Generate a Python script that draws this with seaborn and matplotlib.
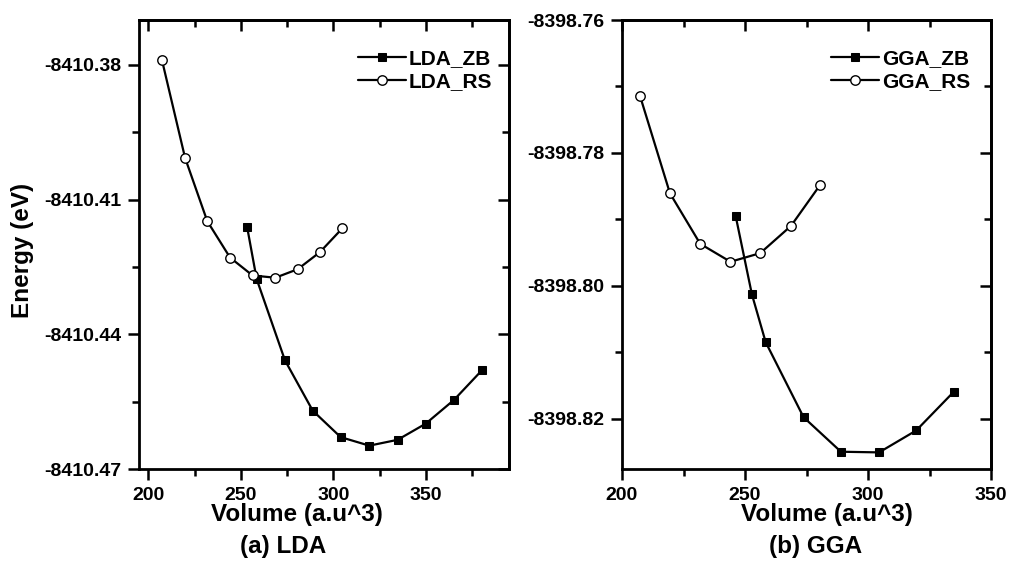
import numpy as np
import pandas as pd
import matplotlib
matplotlib.use("Agg")
import matplotlib.pyplot as plt
import seaborn as sns
from matplotlib.ticker import FixedLocator, FormatStrFormatter

# ---- data ----
lda_zb_v = [253.4, 258.6, 273.9, 288.9, 304.0, 319.5, 334.8, 350.0, 365.3, 380.4]
lda_zb_e = [-8410.4160, -8410.4277, -8410.4458, -8410.4570, -8410.4629,
            -8410.4648, -8410.4635, -8410.4599, -8410.4546, -8410.4480]
lda_rs_v = [207.4, 219.9, 231.9, 244.2, 256.4, 268.7, 280.8, 292.8, 304.9]
lda_rs_e = [-8410.3789, -8410.4007, -8410.4148, -8410.4229, -8410.4269,
            -8410.4274, -8410.4255, -8410.4217, -8410.4164]

gga_zb_v = [246.2, 252.8, 258.4, 273.8, 289.0, 304.5, 319.6, 334.8]
gga_zb_e = [-8398.7895, -8398.8013, -8398.8085, -8398.8198, -8398.8250,
            -8398.8251, -8398.8218, -8398.8160]
gga_rs_v = [207.3, 219.5, 231.8, 244.1, 256.2, 268.7, 280.6]
gga_rs_e = [-8398.7714, -8398.7861, -8398.7937, -8398.7964, -8398.7951,
            -8398.7910, -8398.7848]

lda_yticks = [-8410.47, -8410.44, -8410.41, -8410.38]
gga_yticks = [-8398.82, -8398.80, -8398.78, -8398.76]
lda_xticks = [200, 250, 300, 350]
gga_xticks = [200, 250, 300, 350]

sns.set_style("ticks")
plt.rcParams['font.family'] = ['Liberation Sans', 'DejaVu Sans']
plt.rcParams['font.weight'] = 'bold'
plt.rcParams['axes.unicode_minus'] = False
plt.rcParams['axes.edgecolor'] = 'black'
plt.rcParams['xtick.color'] = 'black'
plt.rcParams['ytick.color'] = 'black'
plt.rcParams['text.color'] = 'black'
plt.rcParams['axes.labelcolor'] = 'black'

fig = plt.figure(figsize=(10.11, 5.64), dpi=100)
W, H = 1011, 564
def axrect(l, r, t, b):
    return [l / W, 1 - b / H, (r - l) / W, (b - t) / H]

ax1 = fig.add_axes(axrect(139, 509, 20, 469))
ax2 = fig.add_axes(axrect(622, 991, 20, 469))

def draw(ax, zb_v, zb_e, rs_v, rs_e, names):
    sns.lineplot(x=zb_v, y=zb_e, ax=ax, color='black', lw=1.6, marker='s',
                 markersize=5.5, markerfacecolor='black', markeredgecolor='black',
                 estimator=None, sort=False, label=names[0])
    sns.lineplot(x=rs_v, y=rs_e, ax=ax, color='black', lw=1.6, marker='o',
                 markersize=6.8, markerfacecolor='white', markeredgecolor='black',
                 markeredgewidth=1.0, estimator=None, sort=False, label=names[1])

draw(ax1, lda_zb_v, lda_zb_e, lda_rs_v, lda_rs_e, ['LDA_ZB', 'LDA_RS'])
draw(ax2, gga_zb_v, gga_zb_e, gga_rs_v, gga_rs_e, ['GGA_ZB', 'GGA_RS'])

def style(ax, xlim, ylim, xt, yt, ystep, legx):
    ax.set_xlim(*xlim)
    ax.set_ylim(*ylim)
    xminor = [v + 25 for v in xt]
    yminor = [v + ystep / 2 for v in yt]
    ax.xaxis.set_major_locator(FixedLocator(xt))
    ax.xaxis.set_minor_locator(FixedLocator(xminor))
    ax.yaxis.set_major_locator(FixedLocator(yt))
    ax.yaxis.set_minor_locator(FixedLocator(yminor))
    ax.yaxis.set_major_formatter(FormatStrFormatter('%.2f'))
    ax.xaxis.set_major_formatter(FormatStrFormatter('%d'))
    ax.tick_params(which='major', direction='out', length=8, width=1.8,
                   labelsize=14, pad=5, color='black', labelcolor='black')
    ax.tick_params(which='minor', direction='out', length=5, width=1.8, color='black')
    for lab in ax.get_xticklabels() + ax.get_yticklabels():
        lab.set_fontweight('bold')
    for s in ax.spines.values():
        s.set_linewidth(2.0)
        s.set_color('black')
        s.set_visible(True)
    sx = ax.secondary_xaxis('top')
    sx.xaxis.set_major_locator(FixedLocator(xt))
    sx.xaxis.set_minor_locator(FixedLocator(xminor))
    sx.tick_params(which='major', direction='in', length=8, width=1.8, labeltop=False, color='black')
    sx.tick_params(which='minor', direction='in', length=5, width=1.8, color='black')
    sx.spines['top'].set_linewidth(2.0)
    sx.spines['top'].set_color('black')
    sy = ax.secondary_yaxis('right')
    sy.yaxis.set_major_locator(FixedLocator(yt))
    sy.yaxis.set_minor_locator(FixedLocator(yminor))
    sy.tick_params(which='major', direction='in', length=8, width=1.8, labelright=False, color='black')
    sy.tick_params(which='minor', direction='in', length=5, width=1.8, color='black')
    sy.spines['right'].set_linewidth(2.0)
    sy.spines['right'].set_color('black')
    ax.set_xlabel('')
    ax.set_ylabel('')
    leg = ax.legend(loc='upper right', bbox_to_anchor=(legx, 0.935), frameon=False,
                    fontsize=15, handlelength=2.3, handletextpad=0.15,
                    labelspacing=0.2, borderaxespad=0, borderpad=0)
    for t in leg.get_texts():
        t.set_fontweight('bold')
        t.set_color('black')

style(ax1, (195, 395), (-8410.47, -8410.37), lda_xticks, lda_yticks, 0.03, 0.955)
style(ax2, (200, 350), (-8398.8276, -8398.76), gga_xticks, gga_yticks, 0.02, 0.945)

fig.text(22 / W, 1 - 250 / H, 'Energy (eV)', rotation=90, ha='center', va='center',
         fontsize=17.5, fontweight='bold')
fig.text(297 / W, 1 - 515 / H, 'Volume (a.u^3)', ha='center', va='center',
         fontsize=17.5, fontweight='bold')
fig.text(283 / W, 1 - 547 / H, '(a) LDA', ha='center', va='center',
         fontsize=17.5, fontweight='bold')
fig.text(827 / W, 1 - 515 / H, 'Volume (a.u^3)', ha='center', va='center',
         fontsize=17.5, fontweight='bold')
fig.text(816 / W, 1 - 547 / H, '(b) GGA', ha='center', va='center',
         fontsize=17.5, fontweight='bold')

fig.savefig('out.png', dpi=100)
